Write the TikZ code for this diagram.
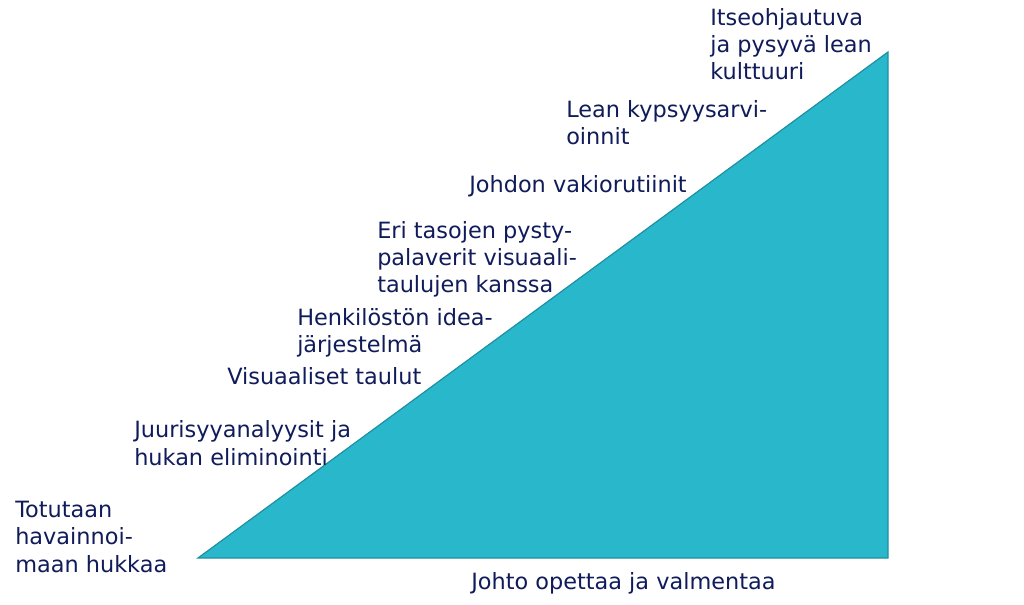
\documentclass[tikz,border=0pt]{standalone}
\usepackage{fontspec}
\setmainfont{DejaVu Sans}
\definecolor{navy}{HTML}{101B5A}
\definecolor{tealfill}{HTML}{29B7CB}
\definecolor{tealline}{HTML}{1F8FA2}
\begin{document}
\begin{tikzpicture}[x=0.75pt,y=-0.75pt,
  lbl/.style={anchor=base west,inner sep=0pt,align=left,text=navy,
    font=\fontsize{16.8}{20.6}\selectfont}]
\useasboundingbox (0,0) rectangle (1024,605);
\coordinate (bl) at (198,558);
\coordinate (tr) at (888,52);
\coordinate (br) at (888,558);
\filldraw[fill=tealfill,draw=tealline,line width=0.9pt,line join=miter] (bl) -- (tr) -- (br) -- cycle;
\node[lbl] (t1) at (15,572) {Totutaan\\havainnoi-\\maan hukkaa};
\node[lbl] (t2) at (134,465) {Juurisyyanalyysit ja\\hukan eliminointi};
\node[lbl] (t3) at (227,385) {Visuaaliset taulut};
\node[lbl] (t4) at (297,353) {Henkilöstön idea-\\järjestelmä};
\node[lbl] (t5) at (377,293) {Eri tasojen pysty-\\palaverit visuaali-\\taulujen kanssa};
\node[lbl] (t6) at (469,193) {Johdon vakiorutiinit};
\node[lbl] (t7) at (566,145) {Lean kypsyysarvi-\\oinnit};
\node[lbl] (t8) at (710,80) {Itseohjautuva\\ja pysyvä lean\\kulttuuri};
\node[lbl] (t9) at (471,589) {Johto opettaa ja valmentaa};
\end{tikzpicture}
\end{document}
